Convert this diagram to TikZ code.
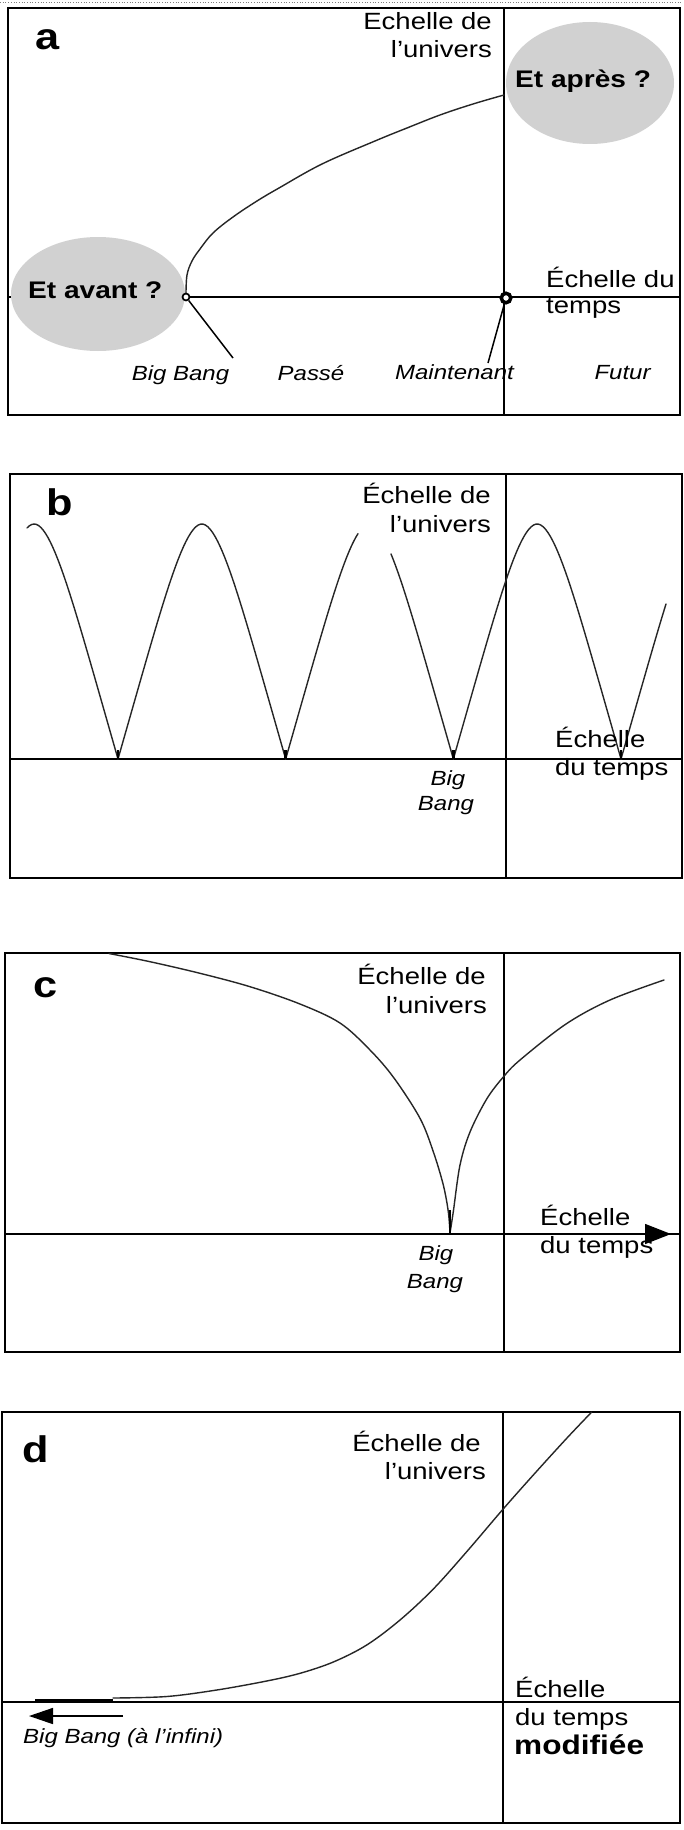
\documentclass[tikz,border=0pt]{standalone}
\usepackage{fontspec}
\setmainfont{Liberation Sans}[FakeStretch=1.17]
\usetikzlibrary{arrows.meta}
\begin{document}
\begin{tikzpicture}[x=1pt,y=-1pt,
  frame/.style={line width=1.6pt},
  axis/.style={line width=1.5pt},
  curve/.style={line width=1.4pt, black!85, line join=round, line cap=round},
  txt/.style={inner sep=0pt, font=\fontsize{23.5}{27}\selectfont},
  ital/.style={inner sep=0pt, font=\fontsize{20.5}{24}\selectfont\itshape},
  boldq/.style={inner sep=0pt, font=\fontsize{24}{28}\selectfont\bfseries},
  panel/.style={inner sep=0pt, font=\fontsize{37}{40}\selectfont\bfseries},
  cloud/.style={fill=black!18},
  declare function={tb(\x)=1-abs(2*((\x-118)/167.67-floor((\x-118)/167.67))-1);
                    pf(\t)=\t*\t*\t*\t*\t;
                    hb(\x)=235*(1.25*tb(\x)-0.25*pf(tb(\x)));}
]
\useasboundingbox (0,0) rectangle (683,1830);
\fill[white] (0,0) rectangle (683,1830);

% ================= panel a =================
\draw[dotted, line width=0.7pt, black!50] (0,2) -- (683,2);
\draw[frame] (8,8) rectangle (680,415);
\draw[axis] (8,297) -- (680,297);
\draw[axis] (504,8) -- (504,415);
\fill[cloud] (590,83) ellipse [x radius=84pt, y radius=61pt];
\fill[cloud] (98,294) ellipse [x radius=87pt, y radius=57pt];
\node[boldq, anchor=base west] (apres) at (515,88) {Et après ?};
\node[boldq, anchor=base west] (avant) at (28,298) {Et avant ?};
\draw[curve] plot[smooth, tension=0.6] coordinates {(186,294) (187,275) (192,261) (200,249) (213,233) (233,217) (257,201) (279,188) (322,164) (375,141) (407,128) (440,115) (473,104) (504,95)};
\node[circle, draw, line width=1.7pt, fill=white, minimum size=7pt, inner sep=0pt] (bba) at (186,297) {};
\node[circle, draw, line width=3.5pt, fill=white, minimum size=9.5pt, inner sep=0pt] (now) at (506,298) {};
\coordinate (bbaend) at (233,358);
\coordinate (nowend) at (488,363);
\draw[line width=1.5pt] (bba) -- (bbaend);
\draw[line width=1.5pt] (now) -- (nowend);
\node[panel, anchor=base west] (la) at (35,50) {a};
\node[txt, anchor=base east] (ua1) at (492,30) {Echelle de};
\node[txt, anchor=base east] (ua2) at (492,58) {l’univers};
\node[txt, anchor=base west] (ta1) at (546,287) {Échelle du};
\node[txt, anchor=base west] (ta2) at (546,313) {temps};
\node[ital, anchor=base] (bbla) at (180.5,380) {Big Bang};
\node[ital, anchor=base] (passe) at (311,380) {Passé};
\node[ital, anchor=base] (maint) at (454.5,379) {Maintenant};
\node[ital, anchor=base] (futur) at (622.5,379) {Futur};

% ================= panel b =================
\draw[frame] (10,474) rectangle (682,878);
\draw[axis] (10,759) -- (682,759);
\draw[axis] (506,474) -- (506,878);
\draw[curve] plot[domain=27:118, samples=40] (\x,{759-hb(\x)});
\draw[curve] plot[domain=118:285.67, samples=70] (\x,{759-hb(\x)});
\draw[curve] plot[domain=285.67:358, samples=35] (\x,{759-hb(\x)});
\draw[curve] plot[domain=391:453.34, samples=30] (\x,{759-hb(\x)});
\draw[curve] plot[domain=453.34:621.01, samples=70] (\x,{759-hb(\x)});
\draw[curve] plot[domain=621.01:666, samples=25] (\x,{759-hb(\x)});
\foreach \m in {118,285.67,453.34,621.01} \draw[line width=2.4pt] (\m,750) -- (\m,759);
\node[panel, anchor=base west] (lb) at (46,515) {b};
\node[txt, anchor=base east] (ub1) at (491,503) {Échelle de};
\node[txt, anchor=base east] (ub2) at (491,532) {l’univers};
\node[txt, anchor=base west] (tb1) at (555,747) {Échelle};
\node[txt, anchor=base west] (tb2) at (555,775) {du temps};
\node[ital, anchor=base] (bbb1) at (448,785) {Big};
\node[ital, anchor=base] (bbb2) at (446,810) {Bang};

% ================= panel c =================
\draw[frame] (5,953) rectangle (680,1352);
\draw[axis] (5,1234) -- (680,1234);
\draw[axis] (504,953) -- (504,1352);
\coordinate (arrc0) at (600,1234);
\coordinate (arrc1) at (671,1234);
\draw[axis, -{Triangle[length=26pt, width=20pt]}] (arrc0) -- (arrc1);
\draw[curve] plot[smooth, tension=0.55] coordinates {(109,953.5) (150,961.7) (200,973.3) (250,986.7) (300,1004) (340,1023) (370,1050) (394,1078) (420,1118.3) (433.3,1151.7) (443.3,1185) (448.3,1211.7) (450,1233)};
\draw[curve] plot[smooth, tension=0.55] coordinates {(450,1233) (453.3,1211.7) (460,1165) (470,1132) (486.7,1099) (503.3,1077) (520,1060) (566,1024) (610,1000) (664,980)};
\draw[line width=2.6pt] (450,1210) -- (450,1234);
\node[panel, anchor=base west] (lc) at (33,997) {c};
\node[txt, anchor=base east] (uc1) at (486,984) {Échelle de};
\node[txt, anchor=base east] (uc2) at (487,1013) {l’univers};
\node[txt, anchor=base west] (tc1) at (540,1225) {Échelle};
\node[txt, anchor=base west] (tc2) at (540,1253) {du temps};
\node[ital, anchor=base] (bbc1) at (436,1260) {Big};
\node[ital, anchor=base] (bbc2) at (435,1288) {Bang};

% ================= panel d =================
\draw[frame] (2,1412) rectangle (680,1823);
\draw[axis] (2,1702) -- (680,1702);
\draw[axis] (503,1412) -- (503,1823);
\draw[line width=2.8pt] (35,1700) -- (113,1700);
\draw[curve] plot[smooth, tension=0.55] coordinates {(113,1698) (166.7,1696.5) (216.7,1690) (266.7,1681) (300,1673.3) (333.3,1662) (366.7,1645) (400,1620) (433.3,1589) (466.7,1551.7) (502.3,1510) (533.3,1475) (566.7,1438.3) (591.7,1412)};
\coordinate (arrd0) at (123,1716);
\coordinate (arrd1) at (29,1716);
\draw[line width=1.6pt, -{Triangle[length=24pt, width=16pt]}] (arrd0) -- (arrd1);
\node[ital, anchor=base west] (bbd) at (23,1743) {Big Bang (à l’infini)};
\node[panel, anchor=base west] (ld) at (22,1462) {d};
\node[txt, anchor=base east] (ud1) at (481,1451) {Échelle de};
\node[txt, anchor=base east] (ud2) at (486,1479) {l’univers};
\node[txt, anchor=base west] (td1) at (515,1697) {Échelle};
\node[txt, anchor=base west] (td2) at (515,1725) {du temps};
\node[inner sep=0pt, font=\fontsize{27}{30}\selectfont\bfseries, anchor=base west] (td3) at (514,1754) {modifiée};
\end{tikzpicture}
\end{document}
